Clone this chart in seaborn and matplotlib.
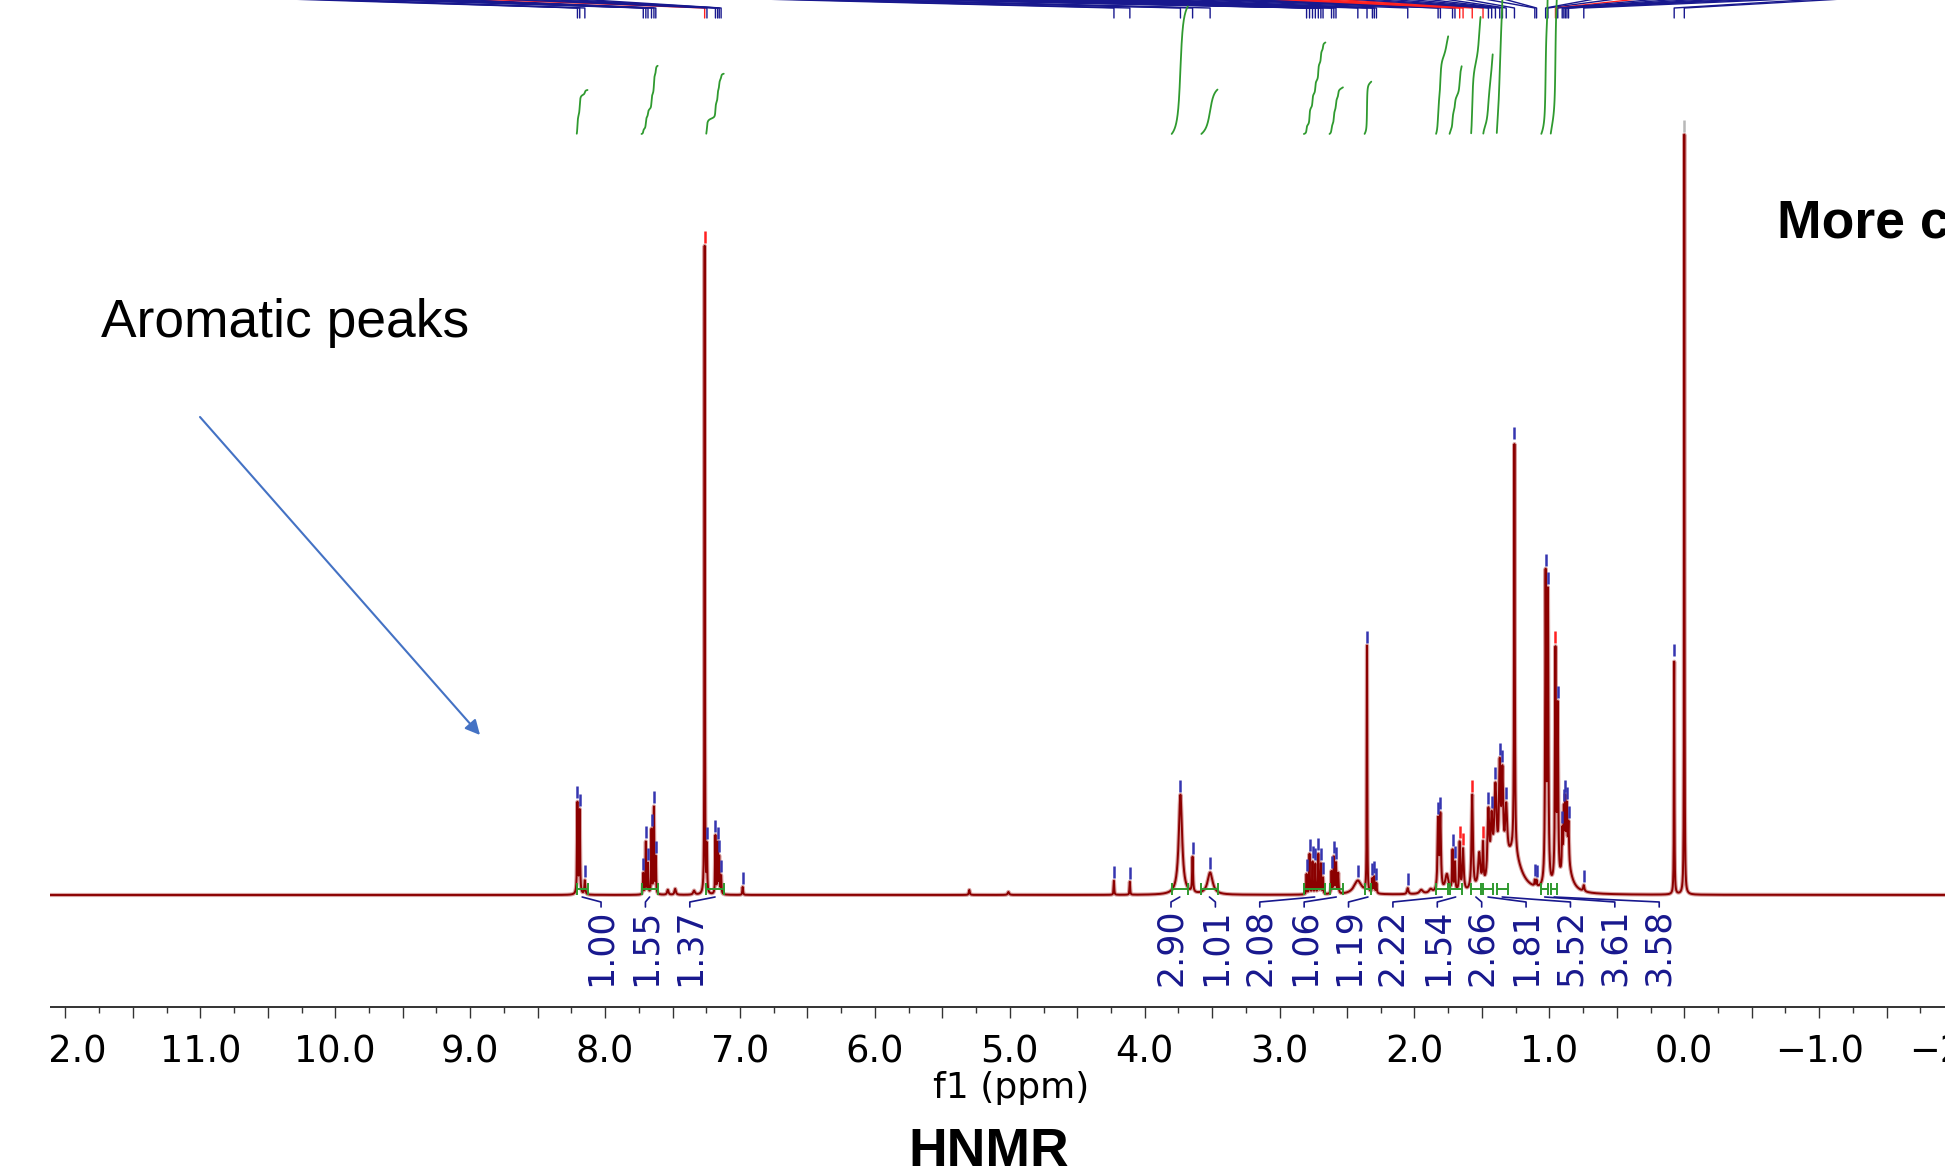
import numpy as np
import pandas as pd
import matplotlib
matplotlib.use("Agg")
import matplotlib.pyplot as plt
from matplotlib.ticker import MultipleLocator, FuncFormatter
from matplotlib.patches import Rectangle
import seaborn as sns

# ---------------------------------------------------------------- data
# 1H NMR peak list: shift (ppm), height (display units), line width (ppm),
# peak-pick flag ('b' blue label, 'r' red label, 'g' grey label, 'n' none)
peak_ppm = [8.205, 8.188, 8.150,
            7.717, 7.698, 7.682, 7.656, 7.638, 7.624,
            7.535, 7.480, 7.340,
            7.262, 7.245, 7.182, 7.166, 7.154, 7.140, 6.980,
            5.300, 5.010, 4.228, 4.110,
            3.735, 3.645, 3.515,
            2.800, 2.778, 2.756, 2.735, 2.713, 2.694, 2.678,
            2.615, 2.598, 2.582, 2.565,
            2.420, 2.352, 2.312, 2.298, 2.282, 2.050, 1.950, 1.880,
            1.825, 1.808, 1.760, 1.718, 1.700, 1.665, 1.640,
            1.572, 1.520, 1.492, 1.452, 1.428, 1.400, 1.368, 1.348, 1.320,
            1.259, 1.270, 1.108, 1.095,
            1.028, 1.011, 0.955, 0.938,
            0.905, 0.893, 0.882, 0.870, 0.858, 0.870, 0.745,
            0.075, 0.000]
peak_height = [91, 83, 14,
               21, 52, 30, 64, 86, 36,
               5, 6, 4,
               648, 46, 58, 50, 36, 18, 8,
               5, 3, 14, 13,
               100, 35, 22,
               20, 40, 32, 30, 40, 30, 16,
               22, 36, 30, 20,
               14, 246, 14, 16, 10, 6, 4, 4,
               70, 74, 18, 40, 28, 48, 42,
               95, 35, 40, 70, 55, 90, 100, 90, 55,
               410, 40, 6, 6,
               305, 285, 230, 170,
               40, 55, 60, 52, 40, 28, 6,
               235, 760]
peak_fwhm = [0.006, 0.006, 0.008,
             0.005, 0.005, 0.005, 0.005, 0.005, 0.005,
             0.012, 0.012, 0.015,
             0.0035, 0.005, 0.005, 0.005, 0.005, 0.006, 0.006,
             0.008, 0.012, 0.005, 0.005,
             0.030, 0.007, 0.045,
             0.005, 0.005, 0.005, 0.005, 0.005, 0.005, 0.005,
             0.006, 0.006, 0.006, 0.006,
             0.070, 0.004, 0.006, 0.006, 0.006, 0.012, 0.030, 0.030,
             0.010, 0.010, 0.030, 0.007, 0.007, 0.008, 0.012,
             0.012, 0.020, 0.008, 0.016, 0.016, 0.022, 0.014, 0.014, 0.018,
             0.006, 0.140, 0.006, 0.006,
             0.008, 0.008, 0.008, 0.008,
             0.007, 0.007, 0.007, 0.007, 0.008, 0.080, 0.010,
             0.004, 0.0035]
peak_pick = ['b', 'b', 'b',
             'b', 'b', 'b', 'b', 'b', 'b',
             'n', 'n', 'n',
             'r', 'b', 'b', 'b', 'b', 'b', 'b',
             'n', 'n', 'b', 'b',
             'b', 'b', 'b',
             'b', 'b', 'b', 'b', 'b', 'b', 'b',
             'b', 'b', 'b', 'n',
             'b', 'b', 'b', 'b', 'b', 'b', 'n', 'n',
             'b', 'b', 'n', 'b', 'b', 'r', 'r',
             'r', 'n', 'r', 'b', 'b', 'b', 'b', 'b', 'b',
             'b', 'n', 'b', 'b',
             'b', 'b', 'r', 'b',
             'b', 'b', 'b', 'b', 'b', 'n', 'b',
             'b', 'g']

# integration regions (ppm) and their normalised integrals
region_start = [8.21, 7.73, 7.25,
                3.80, 3.58, 2.82, 2.63, 2.37, 1.84, 1.74, 1.58, 1.49,
                1.39, 1.06, 0.99]
region_end = [8.13, 7.61, 7.12,
              3.68, 3.46, 2.66, 2.53, 2.32, 1.75, 1.65, 1.51, 1.42,
              1.31, 1.01, 0.94]
region_value = [1.00, 1.55, 1.37,
                2.90, 1.01, 2.08, 1.06, 1.19, 2.22, 1.54, 2.66, 1.81,
                5.52, 3.61, 3.58]

# ---------------------------------------------------------------- style
sns.set_theme(style="white")
plt.rcParams["font.family"] = ["Liberation Sans", "DejaVu Sans"]
plt.rcParams["axes.unicode_minus"] = True

SPEC_DARK = "#8b0000"
SPEC_HALO = "#d9a3a3"
NAVY = "#18188e"
PICK_BLUE = "#3535b0"
GREEN = "#2f9a2f"

W, H, DPI = 1945, 1174, 100
fig = plt.figure(figsize=(W / DPI, H / DPI), dpi=DPI)
fig.patch.set_facecolor("white")

# pixel geometry of the frequency axis
X_ZERO_PX = 1684.3
PX_PER_PPM = 134.9


def px_to_ppm(px):
    return (X_ZERO_PX - px) / PX_PER_PPM


AX_LEFT, AX_RIGHT = 50, 1990
SPINE_Y, BASE_Y = 1007, 895
ax = fig.add_axes([AX_LEFT / W, (H - SPINE_Y) / H,
                   (AX_RIGHT - AX_LEFT) / W, SPINE_Y / H])
ax.set_xlim(px_to_ppm(AX_LEFT), px_to_ppm(AX_RIGHT))
ax.set_ylim(-(SPINE_Y - BASE_Y), BASE_Y)
ax.set_facecolor("white")

# ---------------------------------------------------------------- spectrum
pos = np.asarray(peak_ppm)
amp = np.asarray(peak_height, dtype=float)
hw = np.asarray(peak_fwhm) / 2.0


def spectrum(x):
    x = np.atleast_1d(x)[:, None]
    return (amp / (1.0 + ((x - pos) / hw) ** 2)).sum(axis=1)


grid = np.arange(-2.4, 12.3, 0.0004)
spec = spectrum(grid)
df = pd.DataFrame({"ppm": grid, "intensity": spec})

sns.lineplot(data=df, x="ppm", y="intensity", estimator=None, sort=False,
             color=SPEC_HALO, lw=3.0, ax=ax, zorder=3)
sns.lineplot(data=df, x="ppm", y="intensity", estimator=None, sort=False,
             color=SPEC_DARK, lw=1.4, ax=ax, zorder=4)

# peak-pick markers above each labelled peak
pick_colors = {"b": PICK_BLUE, "r": "#ff2020", "g": "#b8b8b8"}
tops = spectrum(pos)
for p, t, flag in zip(peak_ppm, tops, peak_pick):
    if flag == "n":
        continue
    ax.vlines(p, t + 3, t + 15, color=pick_colors[flag], lw=1.8, zorder=5)

# leader lines of the peak labels running off the top edge
picked = [(p, f) for p, f in zip(peak_ppm, peak_pick) if f != "n"]
groups = [
    ([q for q in picked if q[0] > 7.0], 255, 560),
    ([q for q in picked if 1.05 < q[0] <= 5.0], 720, 1500),
    ([q for q in picked if q[0] <= 1.05], 1600, 1860),
]
for members, a0, a1 in groups:
    members = sorted(members, key=lambda q: -q[0])
    anchors = np.linspace(px_to_ppm(a0), px_to_ppm(a1), len(members))
    for (p, f), a in zip(members, anchors):
        c = "#ff2020" if f == "r" else NAVY
        ax.plot([p, p, a], [BASE_Y - 18, BASE_Y - 8, BASE_Y + 2],
                color=c, lw=1.0, zorder=2)

# ---------------------------------------------------------------- integrals
INT_BASE = BASE_Y - 134      # foot of the integral curves
INT_SCALE = 44.0             # display units per integral unit
for s, e, v in zip(region_start, region_end, region_value):
    m = (grid <= s) & (grid >= e)
    xs = grid[m][::-1]
    ys = spec[m][::-1]
    cum = np.cumsum(ys)
    cum = cum / cum[-1]
    curve = pd.DataFrame({"ppm": xs, "integral": INT_BASE + cum * v * INT_SCALE})
    sns.lineplot(data=curve, x="ppm", y="integral", estimator=None, sort=False,
                 color=GREEN, lw=1.3, ax=ax, zorder=3)
    # integration bracket on the baseline
    ax.hlines(6, e, s, color=GREEN, lw=1.4, zorder=5)
    ax.vlines([s, e], 0, 12, color=GREEN, lw=1.4, zorder=5)

# integral value labels below the baseline, fanned out per region group
LABEL_STEP = 0.329
label_groups = [
    ([i for i in range(len(region_value)) if region_start[i] > 5.0], 8.03),
    ([i for i in range(len(region_value)) if region_start[i] <= 5.0], 3.805),
]
for idx, first in label_groups:
    for k, i in enumerate(idx):
        lx = first - k * LABEL_STEP
        rc = (region_start[i] + region_end[i]) / 2.0
        ax.plot([rc, lx, lx], [-2, -7, -12], color=NAVY, lw=1.2, zorder=5)
        ax.text(lx, -52, f"{region_value[i]:.2f}", rotation=90,
                ha="center", va="center", color=NAVY, fontsize=25,
                family=["DejaVu Sans"], zorder=6)

# ---------------------------------------------------------------- axis
for side in ("left", "right", "top"):
    ax.spines[side].set_visible(False)
ax.spines["bottom"].set_color("#333333")
ax.spines["bottom"].set_linewidth(1.4)
ax.set_yticks([])
ax.set_ylabel("")
ax.xaxis.set_major_locator(MultipleLocator(0.5))
ax.xaxis.set_minor_locator(MultipleLocator(0.25))


def ppm_label(v, _):
    if abs(v - round(v)) > 1e-6:
        return ""
    return f"{round(v, 1) + 0.0:.1f}".replace("-", "\u2212")


ax.xaxis.set_major_formatter(FuncFormatter(ppm_label))
ax.tick_params(axis="x", which="major", direction="out", length=7.9,
               width=1.0, color="#333333", pad=11, labelsize=26.5,
               labelcolor="black", bottom=True, labelfontfamily="DejaVu Sans")
ax.tick_params(axis="x", which="minor", direction="out", length=4.3,
               width=1.0, color="#333333", bottom=True)
ax.set_xlabel("f1 (ppm)", fontsize=26, color="black", family=["DejaVu Sans"])
ax.xaxis.set_label_coords((1011 - AX_LEFT) / (AX_RIGHT - AX_LEFT),
                          (SPINE_Y - 1071) / SPINE_Y)

# ---------------------------------------------------------------- annotations
fig.text(100.7 / W, (H - 337) / H, "Aromatic peaks", fontsize=38.4,
         ha="left", va="baseline", color="black")
ax.annotate("", xy=(480 / W, (H - 735) / H), xycoords="figure fraction",
            xytext=(200 / W, (H - 417) / H), textcoords="figure fraction",
            arrowprops=dict(arrowstyle="-|>", color="#4472c4", lw=1.5,
                            mutation_scale=22, shrinkA=0, shrinkB=0))
fig.text(1777 / W, (H - 238) / H, "More c", fontsize=38.5, weight="bold",
         ha="left", va="baseline", color="black")
fig.text(989 / W, (H - 1166) / H, "HNMR", fontsize=38.5, weight="bold",
         ha="center", va="baseline", color="black")

# blank strip left of the frequency axis
fig.add_artist(Rectangle((0, 0), AX_LEFT / W, 1, transform=fig.transFigure,
                         facecolor="white", edgecolor="none", zorder=100))

fig.savefig("out.png", dpi=DPI, facecolor="white")
